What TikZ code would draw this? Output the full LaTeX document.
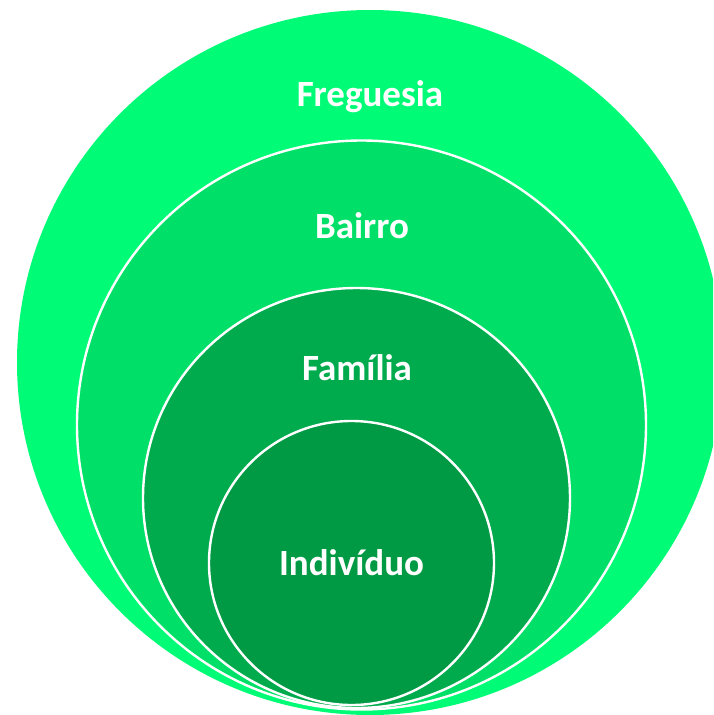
\documentclass[tikz,border=0pt]{standalone}
\usepackage{fontspec}
\setmainfont{Carlito}
\usetikzlibrary{shapes.geometric}
\definecolor{cFreg}{RGB}{0,252,118}
\definecolor{cBair}{RGB}{0,224,104}
\definecolor{cFam}{RGB}{0,171,78}
\definecolor{cInd}{RGB}{0,153,68}
\tikzset{
  ring/.style={ellipse, inner sep=0pt, outer sep=0pt},
  ringline/.style={ring, draw=white, line width=2.4pt},
  lbl/.style={text=white, font=\fontsize{37}{41}\selectfont\bfseries, inner sep=0pt}
}
\begin{document}
\begin{tikzpicture}[x=1pt,y=-1pt]
\useasboundingbox (0,0) rectangle (713,715);
\clip (0,0) rectangle (713,715);
\node[ring, fill=cFreg, minimum width=706pt, minimum height=705pt] (freg) at (370,362.5) {};
\node[ringline, fill=cBair, minimum width=569pt, minimum height=569pt] (bair) at (361.5,425) {};
\node[ringline, fill=cFam, minimum width=427pt, minimum height=420pt] (fam) at (356.5,498) {};
\node[ringline, fill=cInd, minimum width=285pt, minimum height=284pt] (ind) at (351.5,563) {};
\node[lbl] (tfreg) at (370,97) {Freguesia};
\node[lbl] (tbair) at (362,226) {Bairro};
\node[lbl] (tfam) at (357,368) {Família};
\node[lbl] (tind) at (351.5,563) {Indivíduo};
\end{tikzpicture}
\end{document}
